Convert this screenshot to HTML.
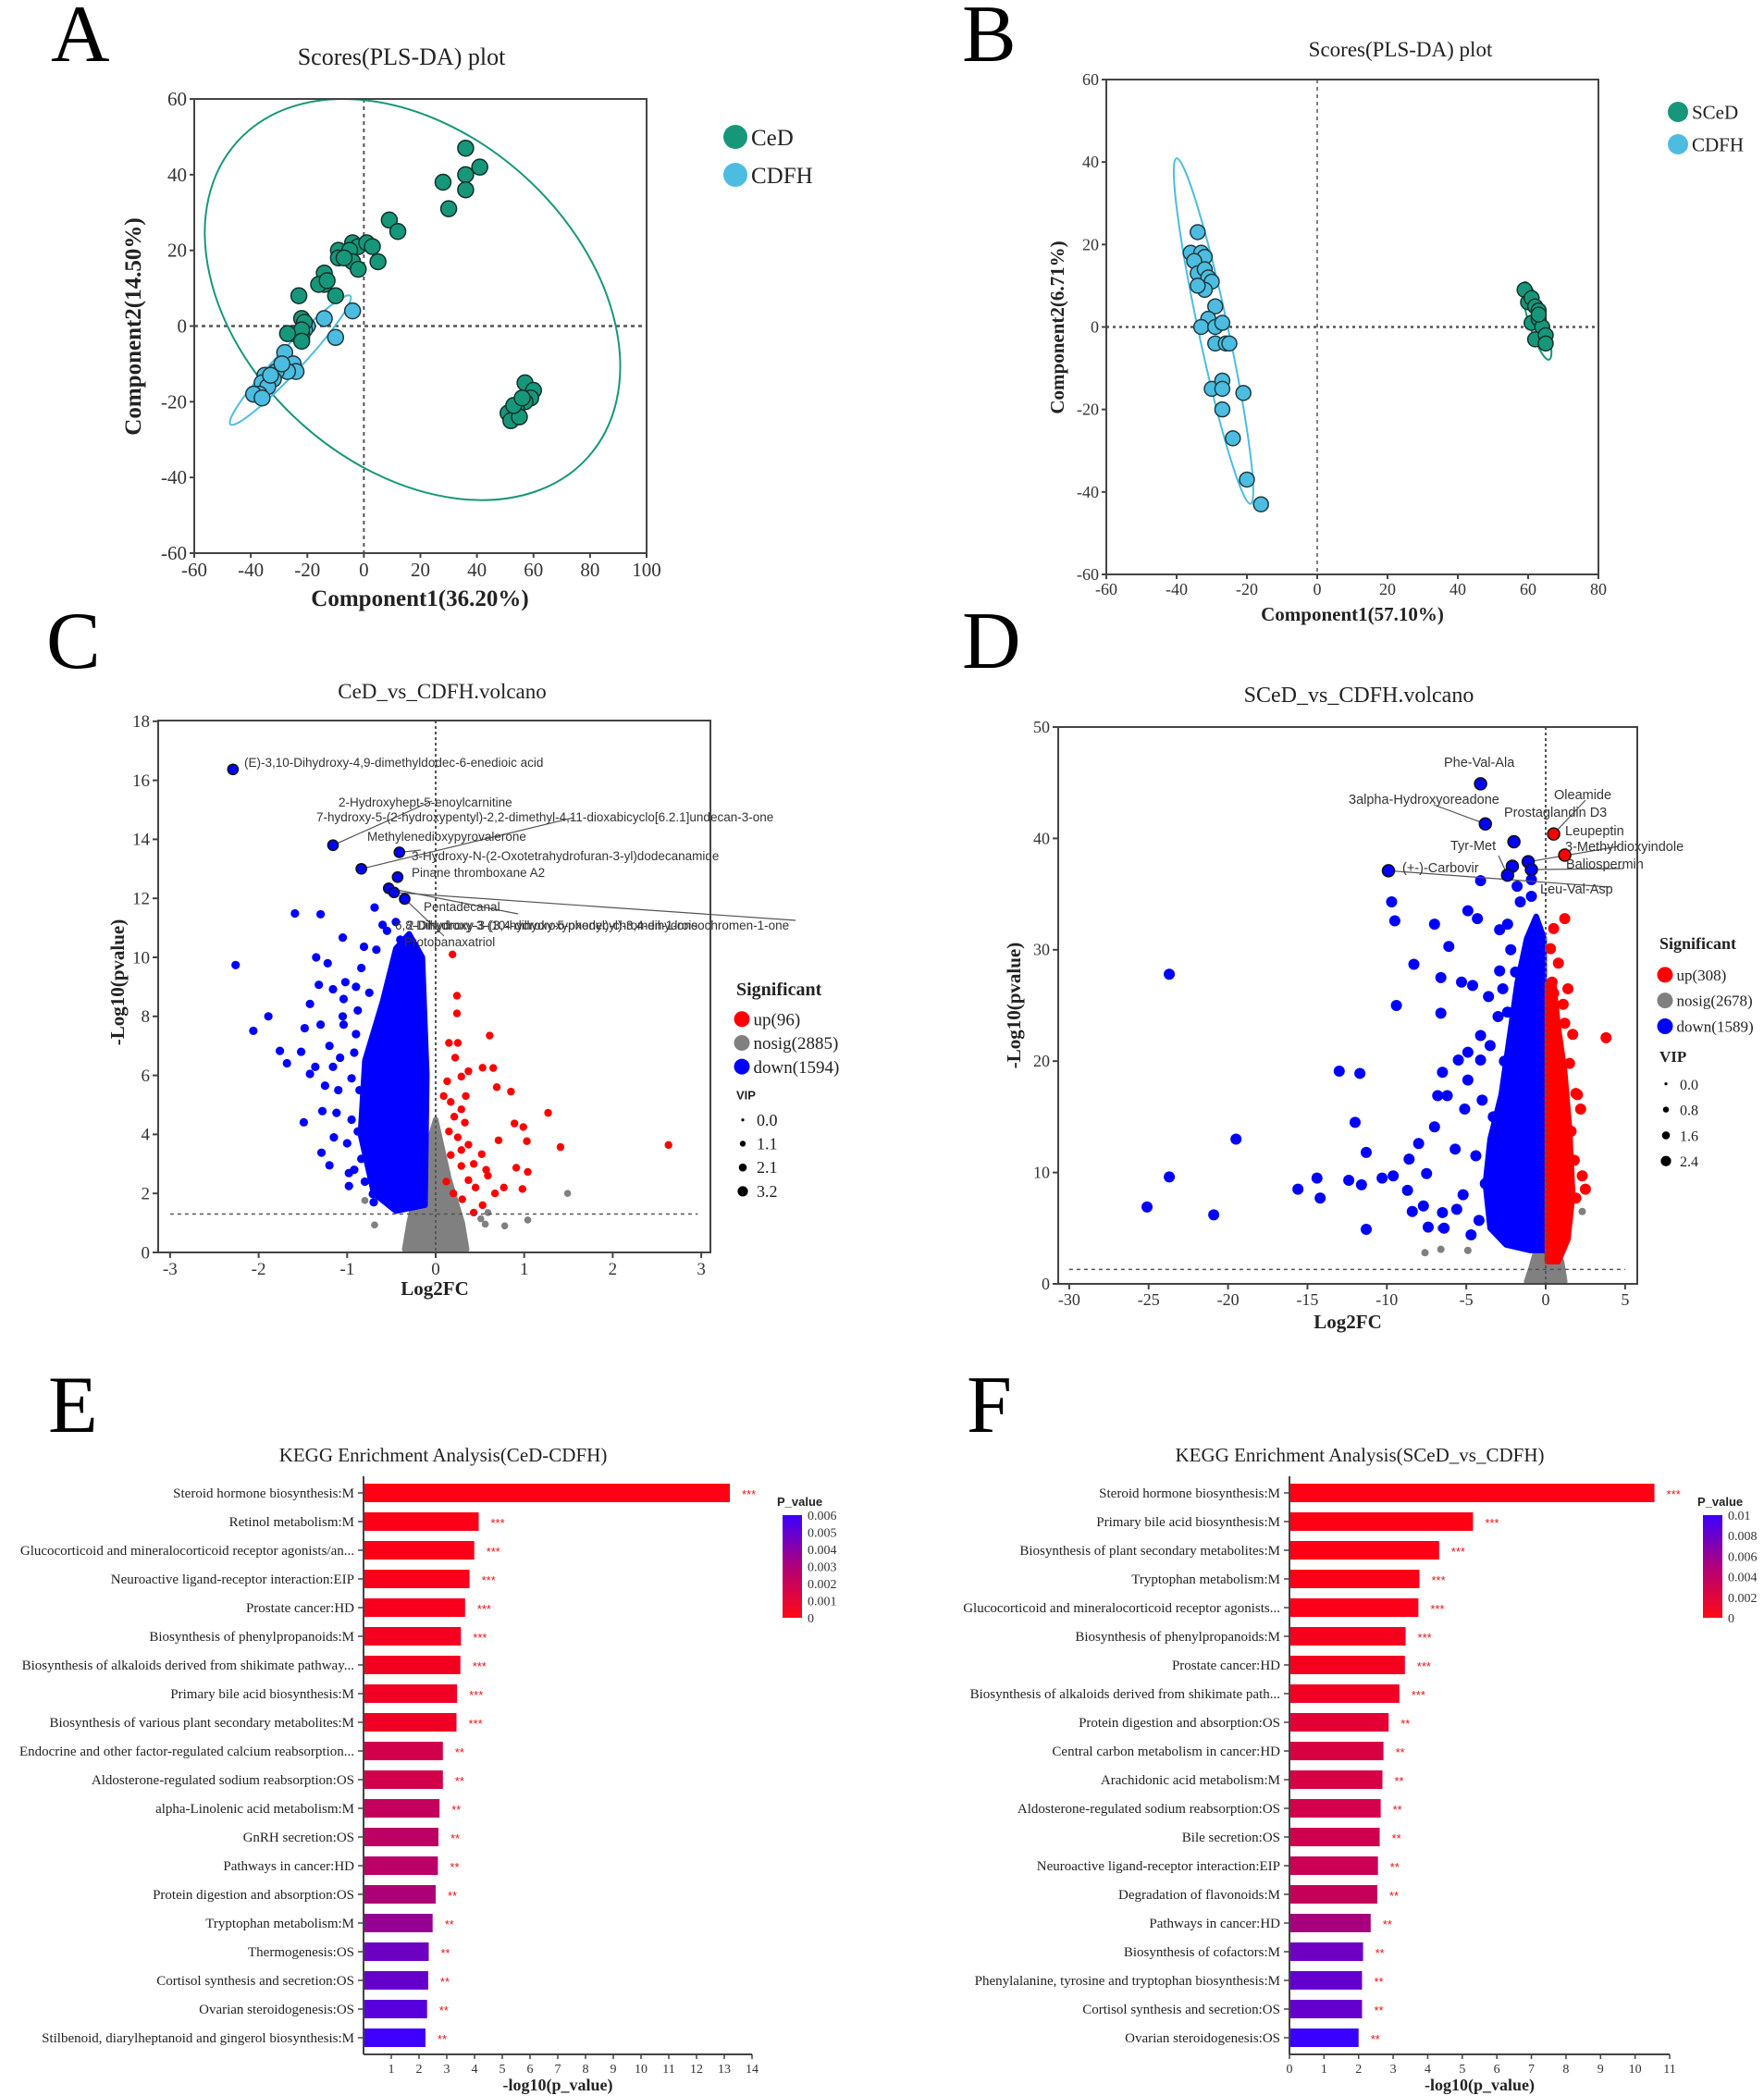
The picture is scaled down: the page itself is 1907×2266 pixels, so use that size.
<!DOCTYPE html>
<html><head><meta charset="utf-8"><title>PLS-DA, volcano and KEGG figure</title>
<style>
html,body{margin:0;padding:0;background:#fff;}
svg{display:block;}
</style></head>
<body>
<svg id="fig" xmlns="http://www.w3.org/2000/svg" width="1907" height="2266" viewBox="0 0 1907 2266" font-family="'Liberation Serif', serif">
<defs>
<linearGradient id="pgrad" x1="0" y1="1" x2="0" y2="0">
<stop offset="0" stop-color="#ff0a14"/><stop offset="0.5" stop-color="#b0007a"/><stop offset="1" stop-color="#3c00ff"/>
</linearGradient>
</defs>
</svg>
<script>
// ---------- DATA ----------
// Panel A (PLS-DA CeD vs CDFH)
const aCeDX=[36,41,36,36,28,30,9,12,-4,-2,1,3,-9,-9,-5,-4,-2,5,-7,-14,-14,-16,-13,-10,-23,-22,-21,-22,-27,-22,57,60,59,57,54,51,52,55,53,56];
const aCeDY=[47,42,40,36,38,31,28,25,22,21,22,21,20,18,20,17,15,17,18,14,11,11,12,8,8,2,1,-1,-2,-4,-15,-17,-19,-20,-22,-23,-25,-24,-21,-19];
const aCdfhX=[-4,-14,-10,-20,-21,-22,-22,-25,-28,-25,-24,-27,-31,-32,-35,-36,-34,-37,-39,-36,-33,-29];
const aCdfhY=[4,2,-3,0,-1,-3,-2,-2,-7,-10,-12,-12,-12,-14,-13,-15,-16,-18,-18,-19,-13,-10];
const aTicks=[-60,-40,-20,0,20,40,60,80,100];
const aYTicks=[-60,-40,-20,0,20,40,60];
// Panel B (PLS-DA SCeD vs CDFH)
const bCdfhX=[-34,-36,-33,-32,-35,-34,-32,-31,-30,-32,-34,-29,-31,-33,-29,-27,-29,-26,-25,-30,-27,-27,-27,-21,-24,-20,-16];
const bCdfhY=[23,18,18,17,16,13,14,12,11,9,10,5,2,0,0,1,-4,-4,-4,-15,-13,-15,-20,-16,-27,-37,-43];
const bSceDX=[59,60,61,62,63,61,63,64,62,65,65,63];
const bSceDY=[9,6,7,5,4,1,2,0,-3,-2,-4,3];
const bTicks=[-60,-40,-20,0,20,40,60,80];
const bYTicks=[-60,-40,-20,0,20,40,60];
// Panel C volcano
const cUpX=[0.19,0.24,0.24,0.61,0.15,0.25,0.53,0.65,0.37,0.29,0.13,0.69,0.85,1.27,0.17,0.29,0.89,0.99,0.71,1.03,1.41,2.63,0.25,0.17,0.52,0.29,0.43,0.57,0.91,1.04,0.37,0.77,0.98,0.53,0.43,0.09,0.33,0.21,0.15,0.37,0.29,0.67,0.45,0.59,0.12,0.2,0.3,0.22,0.34];
const cUpY=[10.1,8.7,8.1,7.35,7.1,7.1,6.26,6.25,6.14,5.96,5.8,5.6,5.45,4.73,5.1,4.85,4.37,4.25,3.8,3.77,3.57,3.64,3.9,3.3,3.33,2.93,3.0,2.8,2.87,2.73,2.45,2.2,2.15,1.6,1.35,5.3,4.4,4.6,4.1,3.65,3.47,2.0,2.2,2.6,2.4,2.0,1.8,6.6,5.3];
const cNoX=[1.49,1.04,0.78,0.56,0.51,-0.69,-0.8,0.59,-0.3,0.3,0.1,-0.1];
const cNoY=[2.0,1.1,0.9,0.96,1.14,0.93,1.76,1.35,0.4,0.6,1.9,1.3];
const cDownX=[-2.26,-1.59,-1.30,-0.69,-1.05,-1.35,-1.22,-0.81,-0.67,-1.89,-2.06,-1.76,-1.68,-1.52,-1.42,-1.49,-1.29,-1.2,-1.32,-1.16,-1.02,-1.42,-1.04,-1.48,-1.3,-1.04,-1.25,-1.28,-0.98,-0.98,-0.84,-0.88,-1.16,-1.12,-0.84,-0.51,-0.71,-0.92,-0.76,-0.63,-1.36,-0.55,-0.45,-0.6,-0.4,-1.1,-0.95,-1.2,-0.9,-0.95,-1.0,-0.88,-1.08,-0.92,-0.9,-0.8,-1.15,-0.75,-1.05,-0.7,-0.86];
const cDownY=[9.74,11.49,11.46,11.69,10.67,10.0,9.8,10.36,10.26,8.0,7.51,6.83,6.41,6.8,6.05,4.41,3.38,2.95,9.07,8.92,9.16,8.42,8.59,7.6,7.72,7.72,5.65,4.79,2.69,2.25,9.64,8.2,6.29,4.73,3.17,1.62,1.98,6.77,5.21,3.89,6.29,10.9,11.2,11.1,10.6,5.5,4.5,7.0,7.4,5.9,3.7,4.1,6.6,2.8,9.0,2.4,3.9,8.8,8.0,1.7,5.5];
const cLabX=[-2.29,-1.16,-0.41,-0.84,-0.43,-0.53,-0.47,-0.35];
const cLabY=[16.37,13.8,13.56,13.0,12.72,12.34,12.2,11.98];
// dense regions (data-space envelope of overlapping points)
const cDownHullX=[-0.12,-0.1,-0.15,-0.3,-0.45,-0.6,-0.8,-0.85,-0.7,-0.45];
const cDownHullY=[1.6,6,10,10.8,10.3,8.5,6.5,4,2,1.4];
const cNoHullX=[-0.35,0.35,0.3,0.15,0.0,-0.15,-0.3];
const cNoHullY=[0.1,0.1,1.0,2.5,4.5,3,1];
const cXTicks=[-3,-2,-1,0,1,2,3];
const cYTicks=[0,2,4,6,8,10,12,14,16,18];
// Panel D volcano
const dDownX=[-23.7,-25.1,-23.7,-20.9,-19.5,-15.6,-14.4,-14.2,-13.0,-11.7,-12.0,-12.4,-11.6,-11.3,-11.3,-9.7,-9.5,-9.4,-8.3,-7.0,-6.1,-6.6,-6.6,-6.5,-6.8,-6.2,-7.0,-8.0,-8.6,-10.3,-9.6,-8.7,-7.5,-8.4,-7.7,-7.4,-6.5,-5.6,-6.4,-5.3,-4.6,-3.6,-4.9,-4.3,-4.1,-4.1,-3.5,-5.5,-4.9,-4.1,-4.9,-5.1,-5.7,-4.7,-4.2,-2.9,-2.4,-2.9,-2.7,-2.4,-1.8,-1.6,-0.9,-0.9,-4.4,-3.8,-5.2,-3.3,-4.0,-2.6,-3.0,-2.2,-2.6,-3.2,-1.9];
const dDownY=[27.8,6.9,9.6,6.2,13.0,8.5,9.5,7.7,19.1,18.9,14.5,9.3,8.9,11.8,4.9,34.3,32.6,25.0,28.7,32.3,30.3,27.5,24.3,19.0,16.9,16.9,14.1,12.6,11.2,9.5,9.7,8.4,9.9,6.5,7.0,5.1,6.4,6.7,5.0,27.1,26.8,25.8,33.5,32.8,36.2,22.3,21.4,20.1,20.8,20.1,18.3,15.7,12.1,4.4,5.7,31.8,32.3,28.1,26.5,24.4,35.7,34.3,34.8,36.3,11.5,9.0,8.0,15.0,16.5,6.0,24.0,30.0,20.0,10.0,28.0];
const dUpX=[1.2,0.5,0.3,0.8,1.4,0.4,0.5,1.1,3.8,1.7,1.2,1.5,1.9,2.2,1.6,1.8,2.3,2.5,1.9,1.3,1.1,2.0,1.0];
const dUpY=[32.8,31.9,30.1,28.8,26.5,27.1,26.1,25.1,22.1,22.4,23.4,19.8,17.1,15.7,13.7,11.1,9.7,8.5,7.7,6.0,3.7,17.0,12.0];
const dNoX=[-7.6,-6.6,-4.9,2.3,-6.6];
const dNoY=[2.8,3.1,3.0,6.5,5.0];
const dLabX=[-4.1,-3.8,-2.0,-2.1,-2.4,-1.1,-0.9,-9.9,0.5,1.2];
const dLabY=[44.9,41.3,39.7,37.5,36.7,37.9,37.2,37.1,40.4,38.5];
const dLabUp=[0,0,0,0,0,0,0,0,1,1];
const dDownHullX=[-0.05,-0.1,-0.6,-1.2,-1.8,-2.3,-2.8,-3.5,-3.8,-3.5,-2.5,-1];
const dDownHullY=[3,31,33,31,27,22,17,13,9,5,3.5,3];
const dUpHullX=[0.1,0.1,0.5,0.8,1.2,1.5,1.7,1.4,0.8];
const dUpHullY=[2,27,27,23,19,14,8,4,2];
const dNoHullX=[-1.2,1.2,1.0,0.4,0,-0.5,-0.9];
const dNoHullY=[0.2,0.2,2,3.5,5,3.5,1.5];
const dXTicks=[-30,-25,-20,-15,-10,-5,0,5];
const dYTicks=[0,10,20,30,40,50];
// Panel E KEGG
const eTerms=["Steroid hormone biosynthesis:M","Retinol metabolism:M","Glucocorticoid and mineralocorticoid receptor agonists/an...","Neuroactive ligand-receptor interaction:EIP","Prostate cancer:HD","Biosynthesis of phenylpropanoids:M","Biosynthesis of alkaloids derived from shikimate pathway...","Primary bile acid biosynthesis:M","Biosynthesis of various plant secondary metabolites:M","Endocrine and other factor-regulated calcium reabsorption...","Aldosterone-regulated sodium reabsorption:OS","alpha-Linolenic acid metabolism:M","GnRH secretion:OS","Pathways in cancer:HD","Protein digestion and absorption:OS","Tryptophan metabolism:M","Thermogenesis:OS","Cortisol synthesis and secretion:OS","Ovarian steroidogenesis:OS","Stilbenoid, diarylheptanoid and gingerol biosynthesis:M"];
const eValues=[13.2,4.15,3.99,3.82,3.66,3.51,3.49,3.37,3.35,2.86,2.86,2.74,2.70,2.68,2.60,2.49,2.35,2.33,2.29,2.23];
const eStars=["***","***","***","***","***","***","***","***","***","**","**","**","**","**","**","**","**","**","**","**"];
const eXTicks=[1,2,3,4,5,6,7,8,9,10,11,12,13,14];
const ePTicks=["0.006","0.005","0.004","0.003","0.002","0.001","0"];
// Panel F KEGG
const fTerms=["Steroid hormone biosynthesis:M","Primary bile acid biosynthesis:M","Biosynthesis of plant secondary metabolites:M","Tryptophan metabolism:M","Glucocorticoid and mineralocorticoid receptor agonists...","Biosynthesis of phenylpropanoids:M","Prostate cancer:HD","Biosynthesis of alkaloids derived from shikimate path...","Protein digestion and absorption:OS","Central carbon metabolism in cancer:HD","Arachidonic acid metabolism:M","Aldosterone-regulated sodium reabsorption:OS","Bile secretion:OS","Neuroactive ligand-receptor interaction:EIP","Degradation of flavonoids:M","Pathways in cancer:HD","Biosynthesis of cofactors:M","Phenylalanine, tyrosine and tryptophan biosynthesis:M","Cortisol synthesis and secretion:OS","Ovarian steroidogenesis:OS"];
const fValues=[10.56,5.31,4.33,3.76,3.73,3.36,3.34,3.18,2.87,2.72,2.69,2.64,2.61,2.56,2.54,2.35,2.13,2.10,2.10,2.00];
const fStars=["***","***","***","***","***","***","***","***","**","**","**","**","**","**","**","**","**","**","**","**"];
const fXTicks=[0,1,2,3,4,5,6,7,8,9,10,11];
const fPTicks=["0.01","0.008","0.006","0.004","0.002","0"];

// ---------- DRAWING ----------
const NS='http://www.w3.org/2000/svg';
const svg=document.getElementById('fig');
function mk(tag,attrs,parent){const e=document.createElementNS(NS,tag);for(const k in attrs)e.setAttribute(k,attrs[k]);(parent||svg).appendChild(e);return e;}
function txt(s,attrs,parent){const e=mk('text',attrs,parent);e.textContent=s;return e;}
function grp(name){const g=mk('g',{});


return g;}

const GREEN='#17977a', CYAN='#4cbde0', BLUE='#0000ff', RED='#ff0000', GREY='#808080';

[['A',55,66],['B',1040,66],['C',50,722],['D',1040,722],['E',52,1548],['F',1045,1548]].forEach(L=>{
 const t=txt(L[0],{x:L[1],y:L[2],'font-size':88});
 
 
});

function scatterAxes(g,box,xs,ys,xt,yt,fs,tl){
 const r=mk('rect',{x:box.l,y:box.t,width:box.r-box.l,height:box.b-box.t,fill:'none',stroke:'#444','stroke-width':2},g);
 
 
 xt.forEach(v=>{const x=xs(v);
  const l=mk('line',{x1:x,x2:x,y1:box.b,y2:box.b+tl,stroke:'#444','stroke-width':2},g);
  
  
  const t=txt(String(v),{x:x,y:box.b+tl+fs*0.95,'text-anchor':'middle','font-size':fs,fill:'#333'},g);
  
  
 });
 yt.forEach(v=>{const y=ys(v);
  const l=mk('line',{x1:box.l-tl,x2:box.l,y1:y,y2:y,stroke:'#444','stroke-width':2},g);
  
  
  const t=txt(String(v),{x:box.l-tl-3,y:y+fs*0.33,'text-anchor':'end','font-size':fs,fill:'#333'},g);
  
  
 });
}
function dash(g,x1,y1,x2,y2,w,d){const l=mk('line',{x1:x1,y1:y1,x2:x2,y2:y2,stroke:'#555','stroke-width':w,'stroke-dasharray':d},g);
 
 }
function dots(g,X,Y,xs,ys,r,fill,stroke,name){X.forEach((v,i)=>{
 const c=mk('circle',{cx:xs(v),cy:ys(Y[i]),r:r,fill:fill,stroke:stroke||'none','stroke-width':1.5},g);
 
 
});}
function hull(g,X,Y,xs,ys,color,name){const pts=X.map((v,i)=>xs(v)+','+ys(Y[i])).join(' ');
 const p=mk('polygon',{points:pts,fill:color,stroke:color,'stroke-width':6,'stroke-linejoin':'round'},g);
 
 }
function ellipse(g,cx,cy,rx,ry,ang,color,name){const e=mk('ellipse',{cx:cx,cy:cy,rx:rx,ry:ry,fill:'none',stroke:color,'stroke-width':2,transform:`rotate(${ang} ${cx} ${cy})`},g);
 
 }
function legendDot(g,x,y,r,color,label,fs,name){
 const c=mk('circle',{cx:x,cy:y,r:r,fill:color},g);
 
 
 const t=txt(label,{x:x+r+4,y:y+fs*0.35,'font-size':fs,fill:'#222'},g);
 
 
}

// ---- Panel A ----
(function(){
 const g=grp('panel-a-plsda');
 const box={l:210,r:699,t:107,b:598};
 const xs=v=>box.l+(v+60)*(box.r-box.l)/160, ys=v=>box.t+(60-v)*(box.b-box.t)/120;
 txt('Scores(PLS-DA) plot',{x:434,y:70,'text-anchor':'middle','font-size':26,fill:'#222'},g);
 dash(g,xs(0),box.t,xs(0),box.b,2,'4,4');
 dash(g,box.l,ys(0),box.r,ys(0),2.5,'4,4');
 ellipse(g,xs(17.2),ys(7.0),255,180,42,GREEN,'ced-confidence-ellipse');
 ellipse(g,xs(-26),ys(-9),95,13,-47,CYAN,'cdfh-confidence-ellipse');
 dots(g,aCdfhX,aCdfhY,xs,ys,8.5,CYAN,'#1f3a40','cdfh-point');
 dots(g,aCeDX,aCeDY,xs,ys,8.5,GREEN,'#10322a','ced-point');
 scatterAxes(g,box,xs,ys,aTicks,aYTicks,21,5);
 const xl=txt('Component1(36.20%)',{x:454,y:655,'text-anchor':'middle','font-size':25,'font-weight':'bold',fill:'#222'},g);
 
 const yl=txt('Component2(14.50%)',{x:0,y:0,'text-anchor':'middle','font-size':25,'font-weight':'bold',fill:'#222',transform:'translate(152,353) rotate(-90)'},g);
 
 legendDot(g,795,148,13,GREEN,'CeD',25,'legend-ced');
 legendDot(g,795,189,13,CYAN,'CDFH',25,'legend-cdfh');
})();

// ---- Panel B ----
(function(){
 const g=grp('panel-b-plsda');
 const box={l:1196,r:1728,t:86,b:621};
 const xs=v=>box.l+(v+60)*(box.r-box.l)/140, ys=v=>box.t+(60-v)*(box.b-box.t)/120;
 txt('Scores(PLS-DA) plot',{x:1514,y:61,'text-anchor':'middle','font-size':23,fill:'#222'},g);
 dash(g,xs(0),box.t,xs(0),box.b,1.5,'4,4');
 dash(g,box.l,ys(0),box.r,ys(0),2.5,'3,4');
 ellipse(g,xs(-29.5),ys(-1),191,16,77.9,CYAN,'cdfh-confidence-ellipse');
 ellipse(g,xs(62.5),ys(1.5),44,9,72.6,GREEN,'sced-confidence-ellipse');
 dots(g,bCdfhX,bCdfhY,xs,ys,8,CYAN,'#1f3a40','cdfh-point');
 dots(g,bSceDX,bSceDY,xs,ys,8,GREEN,'#10322a','sced-point');
 scatterAxes(g,box,xs,ys,bTicks,bYTicks,18,5);
 txt('Component1(57.10%)',{x:1462,y:671,'text-anchor':'middle','font-size':21,'font-weight':'bold',fill:'#222'},g);
 txt('Component2(6.71%)',{x:0,y:0,'text-anchor':'middle','font-size':21,'font-weight':'bold',fill:'#222',transform:'translate(1150,354) rotate(-90)'},g);
 legendDot(g,1814,121,11,GREEN,'SCeD',21,'legend-sced');
 legendDot(g,1814,156,11,CYAN,'CDFH',21,'legend-cdfh');
})();

function volcanoLegend(g,x,y0,fs,counts,vipVals,gap,serifVip){
 txt('Significant',{x:x-6,y:y0,'font-size':fs+1,'font-weight':'bold',fill:'#222'},g);
 legendDot(g,x,y0+gap*1.05,8.5,RED,'up('+counts[0]+')',fs,'legend-up');
 legendDot(g,x,y0+gap*2.1,8.5,GREY,'nosig('+counts[1]+')',fs,'legend-nosig');
 legendDot(g,x,y0+gap*3.15,8.5,BLUE,'down('+counts[2]+')',fs,'legend-down');
 const vt=txt('VIP',{x:x-6,y:y0+gap*4.6,'font-size':serifVip?fs:13,'font-weight':'bold','font-family':serifVip?"'Liberation Serif',serif":"'Liberation Sans',sans-serif",fill:'#222'},g);
 
 const rs=[1.6,3.2,4.3,5.6];
 vipVals.forEach((v,i)=>{
  const c=mk('circle',{cx:x+1,cy:y0+gap*(5.5+i*1.05),r:rs[i],fill:'#000'},g);
  
  
  const t=txt(v,{x:x+16,y:y0+gap*(5.5+i*1.05)+6,'font-size':fs-1,fill:'#222'},g);
  
  
 });
}
function annot(g,px,py,lx,ly){
 const l=mk('line',{x1:px,y1:py,x2:lx,y2:ly,stroke:'#555','stroke-width':1.2},g);
 
 
}

// ---- Panel C ----
(function(){
 const g=grp('panel-c-volcano');
 const box={l:171,r:768,t:779,b:1354};
 const xs=v=>471+v*95.7, ys=v=>1354-v*31.9;
 txt('CeD_vs_CDFH.volcano',{x:478,y:755,'text-anchor':'middle','font-size':23,fill:'#222'},g);
 hull(g,cNoHullX,cNoHullY,xs,ys,GREY,'nosig-density');
 dots(g,cNoX,cNoY,xs,ys,3.8,GREY,null,'nosig-point');
 hull(g,cDownHullX,cDownHullY,xs,ys,BLUE,'down-density');
 dots(g,cDownX,cDownY,xs,ys,4.6,BLUE,null,'down-point');
 dots(g,cUpX,cUpY,xs,ys,4.2,RED,null,'up-point');
 dash(g,xs(0),box.t,xs(0),box.b,2,'3,3');
 dash(g,xs(-3),ys(1.3),xs(2.96),ys(1.3),1.5,'4,4');
 const lab=[[cLabX[1],cLabY[1],467,866],[cLabX[3],cLabY[3],620,884],[cLabX[2],cLabY[2],455,919],[cLabX[5],cLabY[5],560,988],[cLabX[6],cLabY[6],860,995],[cLabX[7],cLabY[7],480,1012]];
 lab.forEach(a=>annot(g,xs(a[0]),ys(a[1]),a[2],a[3]));
 dots(g,cLabX,cLabY,xs,ys,5.6,BLUE,'#111','labelled-metabolite');
 const F="'Liberation Sans',sans-serif";
 [['(E)-3,10-Dihydroxy-4,9-dimethyldodec-6-enedioic acid',264,829],['2-Hydroxyhept-5-enoylcarnitine',366,872],['7-hydroxy-5-(2-hydroxypentyl)-2,2-dimethyl-4,11-dioxabicyclo[6.2.1]undecan-3-one',342,888],['Methylenedioxypyrovalerone',397,909],['3-Hydroxy-N-(2-Oxotetrahydrofuran-3-yl)dodecanamide',445,930],['Pinane thromboxane A2',445,948],['Pentadecanal',458,985],['6,8-Dihydroxy-3-(10-hydroxy-5-oxodecyl)-3,4-dihydroisochromen-1-one',427,1005],['2-Dihydroxy-3-(3,4-dihydroxyphenyl)-chromen-1-one',440,1005],['Protopanaxatriol',437,1023]].forEach(a=>{
  const t=txt(a[0],{x:a[1],y:a[2],'font-size':13.5,'font-family':F,fill:'#333'},g);
  
  
 });
 scatterAxes(g,box,xs,ys,cXTicks,cYTicks,19,6);
 txt('Log2FC',{x:470,y:1400,'text-anchor':'middle','font-size':21,'font-weight':'bold',fill:'#222'},g);
 txt('-Log10(pvalue)',{x:0,y:0,'text-anchor':'middle','font-size':21,'font-weight':'bold',fill:'#222',transform:'translate(134,1062) rotate(-90)'},g);
 volcanoLegend(g,802,1076,19,[96,2885,1594],['0.0','1.1','2.1','3.2'],24.5,false);
})();

// ---- Panel D ----
(function(){
 const g=grp('panel-d-volcano');
 const box={l:1144,r:1770,t:786,b:1388};
 const xs=v=>1671+v*17.17, ys=v=>1388-v*12.04;
 txt('SCeD_vs_CDFH.volcano',{x:1469,y:759,'text-anchor':'middle','font-size':24,fill:'#222'},g);
 hull(g,dNoHullX,dNoHullY,xs,ys,GREY,'nosig-density');
 dots(g,dNoX,dNoY,xs,ys,4,GREY,null,'nosig-point');
 hull(g,dDownHullX,dDownHullY,xs,ys,BLUE,'down-density');
 hull(g,dUpHullX,dUpHullY,xs,ys,RED,'up-density');
 dots(g,dDownX,dDownY,xs,ys,6,BLUE,null,'down-point');
 dots(g,dUpX,dUpY,xs,ys,6,RED,null,'up-point');
 dash(g,xs(0),box.t,xs(0),box.b,2,'3,3');
 dash(g,xs(-30),ys(1.3),xs(5),ys(1.3),1.5,'4,4');
 const lab=[[1,1550,870],[8,1714,865],[5,1750,915],[6,1755,939],[7,1740,959],[4,1620,925]];
 lab.forEach(a=>annot(g,xs(dLabX[a[0]]),ys(dLabY[a[0]]),a[1],a[2]));
 dLabX.forEach((v,i)=>{
  const c=mk('circle',{cx:xs(v),cy:ys(dLabY[i]),r:6.5,fill:dLabUp[i]?RED:BLUE,stroke:'#111','stroke-width':1.5},g);
  
  
 });
 const F="'Liberation Sans',sans-serif";
 [['Phe-Val-Ala',1561,829],['3alpha-Hydroxyoreadone',1458,869],['Oleamide',1680,864],['Prostaglandin D3',1626,883],['Leupeptin',1692,903],['3-Methyldioxyindole',1692,920],['Baliospermin',1693,939],['Tyr-Met',1568,919],['(+-)-Carbovir',1516,943],['Leu-Val-Asp',1665,966]].forEach(a=>{
  const t=txt(a[0],{x:a[1],y:a[2],'font-size':14.5,'font-family':F,fill:'#333'},g);
  
  
 });
 scatterAxes(g,box,xs,ys,dXTicks,dYTicks,18,6);
 txt('Log2FC',{x:1457,y:1436,'text-anchor':'middle','font-size':21,'font-weight':'bold',fill:'#222'},g);
 txt('-Log10(pvalue)',{x:0,y:0,'text-anchor':'middle','font-size':21,'font-weight':'bold',fill:'#222',transform:'translate(1103,1087) rotate(-90)'},g);
 volcanoLegend(g,1800,1026,17,[308,2678,1589],['0.0','0.8','1.6','2.4'],26.5,true);
})();

// ---- KEGG bars ----
function pColor(v,pmax){const p=Math.pow(10,-v);let t=Math.min(1,p/pmax);
 const r=Math.round(255-(255-58)*t), b=Math.round(20+(255-20)*t); return `rgb(${r},0,${b})`;}
function kegg(name,terms,vals,stars,xt,x0,xmax,x1,title,titleX,ptick,pmax,cbx){
 const g=grp(name);
 const xs=v=>x0+v*(x1-x0)/xmax;
 const y0=1614, step=31, h=20, axisY=2221;
 txt(title,{x:titleX,y:1580,'text-anchor':'middle','font-size':21,fill:'#222'},g);
 terms.forEach((t,i)=>{
  const y=y0+i*step;
  const r=mk('rect',{x:x0,y:y-h/2,width:xs(vals[i])-x0,height:h,fill:pColor(vals[i],pmax)},g);
  
  
  const s=txt(stars[i],{x:xs(vals[i])+13,y:y+6,'font-size':13,fill:'#ee1111','font-family':"'Liberation Sans',sans-serif"},g);
  
  
  const l=txt(t,{x:x0-10,y:y+5,'text-anchor':'end','font-size':15,fill:'#222'},g);
  
  
  const tk=mk('line',{x1:x0-6,x2:x0,y1:y,y2:y,stroke:'#444','stroke-width':1.5},g);
  
  
 });
 const ax=mk('line',{x1:x0,x2:x0,y1:1596,y2:axisY,stroke:'#444','stroke-width':2},g);
 
 
 const bx=mk('line',{x1:x0,x2:x1,y1:axisY,y2:axisY,stroke:'#444','stroke-width':2},g);
 
 
 xt.forEach(v=>{const x=xs(v);
  const l=mk('line',{x1:x,x2:x,y1:axisY,y2:axisY+5,stroke:'#444','stroke-width':1.5},g);
  
  
  const t=txt(String(v),{x:x,y:axisY+20,'text-anchor':'middle','font-size':14,fill:'#333'},g);
  
  
 });
 txt('-log10(p_value)',{x:(x0+x1)/2,y:2260,'text-anchor':'middle','font-size':18,'font-weight':'bold',fill:'#222'},g);
 const pt=txt('P_value',{x:cbx-6,y:1628,'font-size':13,'font-weight':'bold','font-family':"'Liberation Sans',sans-serif",fill:'#222'},g);
 
 
 const cb=mk('rect',{x:cbx,y:1638,width:21,height:111,fill:'url(#pgrad)'},g);
 
 
 ptick.forEach((s,i)=>{const y=1638+i*111/(ptick.length-1);
  const t=txt(s,{x:cbx+27,y:y+5,'font-size':14,fill:'#333'},g);
  
  
 });
}
kegg('panel-e-kegg',eTerms,eValues,eStars,eXTicks,393,14,813,'KEGG Enrichment Analysis(CeD-CDFH)',479,ePTicks,0.006,846);
kegg('panel-f-kegg',fTerms,fValues,fStars,fXTicks,1394,11,1805,'KEGG Enrichment Analysis(SCeD_vs_CDFH)',1470,fPTicks,0.01,1841);
</script>
</body></html>
